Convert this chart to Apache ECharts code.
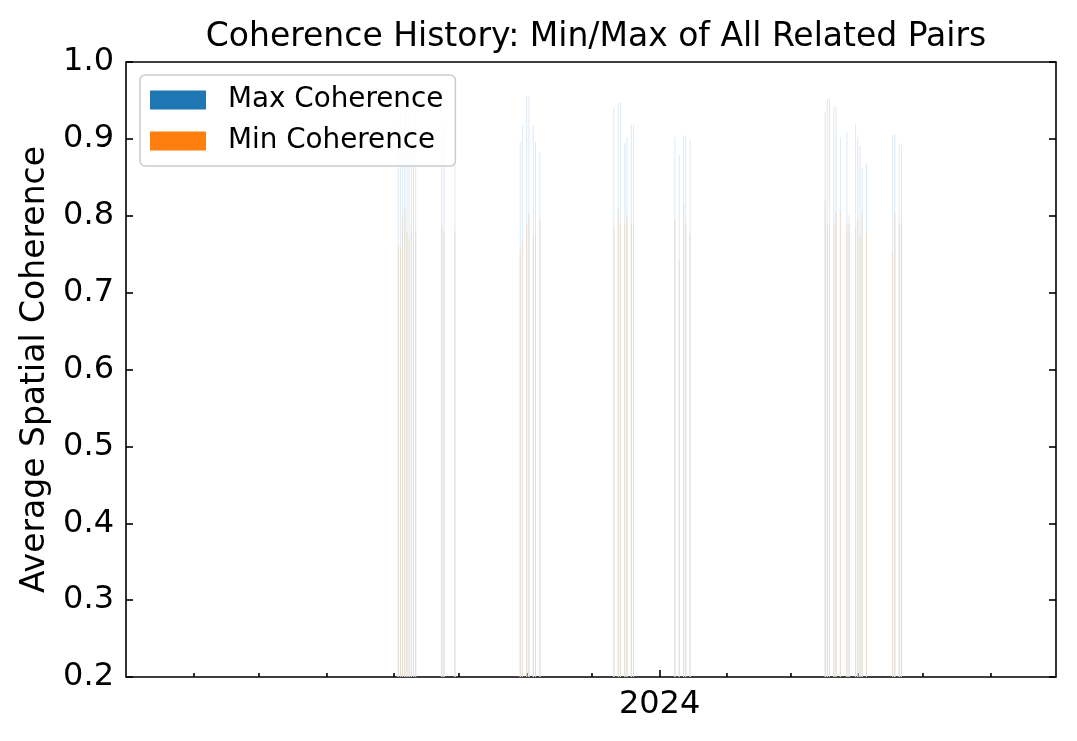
<!DOCTYPE html>
<html><head><meta charset="utf-8">
<script src="https://cdn.jsdelivr.net/npm/echarts@6/dist/echarts.min.js"></script>
<style>html,body{margin:0;padding:0;background:#fff}#c{width:1077px;height:741px}</style>
</head><body><div id="c"></div>
<script>
// ---- data ----
const dates = [
  '2023-09-03','2023-09-04','2023-09-05','2023-09-06','2023-09-07','2023-09-08','2023-09-09','2023-09-10','2023-09-11',
  '2023-09-23','2023-09-24','2023-09-29',
  '2023-10-29','2023-10-30','2023-11-01','2023-11-02','2023-11-04','2023-11-05','2023-11-07',
  '2023-12-11','2023-12-13','2023-12-14','2023-12-16','2023-12-17','2023-12-19','2023-12-20',
  '2024-01-08','2024-01-10','2024-01-12','2024-01-13','2024-01-15',
  '2024-03-17','2024-03-18','2024-03-19','2024-03-21','2024-03-22','2024-03-24','2024-03-27','2024-03-28',
  '2024-03-31','2024-04-01','2024-04-02','2024-04-03','2024-04-05',
  '2024-04-17','2024-04-18','2024-04-20','2024-04-21'
];
const maxCoherence = [
  0.92,0.93,0.91,0.94,0.92,0.93,0.91,0.92,0.93,
  0.91,0.92,0.92,
  0.896,0.917,0.956,0.956,0.917,0.896,0.883,
  0.941,0.947,0.947,0.894,0.902,0.918,0.918,
  0.902,0.879,0.904,0.904,0.899,
  0.935,0.952,0.952,0.942,0.942,0.902,0.909,0.801,
  0.920,0.902,0.890,0.862,0.868,
  0.905,0.905,0.894,0.892
];
const minCoherence = [
  0.76,0.76,0.80,0.81,0.78,0.77,0.78,0.78,0.78,
  0.785,0.78,0.78,
  0.756,0.769,0.789,0.802,0.773,0.775,0.795,
  0.785,0.81,0.79,0.79,0.80,0.79,0.79,
  0.794,0.742,0.816,0.79,0.777,
  0.82,0.788,0.788,0.791,0.805,0.805,0.788,0.790,
  0.784,0.797,0.775,0.803,0.779,
  0.753,0.803,0.788,0.790
];
const xRange = ['2023-05-01','2024-07-01'];
const monthTicks = ['2023-06-01','2023-07-01','2023-08-01','2023-09-01','2023-10-01','2023-11-01','2023-12-01',
  '2024-02-01','2024-03-01','2024-04-01','2024-05-01','2024-06-01'];
const yearTicks = ['2024-01-01'];
const yearLabels = ['2024'];
const yMin = 0.2, yMax = 1.0, yStep = 0.1;

// ---- helpers ----
const ts = s => { const [y,m,d] = s.split('-').map(Number); return Date.UTC(y, m-1, d); };
const font = 'DejaVu Sans';
const yearTs = yearTicks.map(ts);
const monthTs = monthTicks.map(ts);
const maxData = dates.map((d,i) => [ts(d), maxCoherence[i]]);
const minData = dates.map((d,i) => [ts(d), minCoherence[i]]);
const tickLine = {color:'#000', width:1.6};
const xMin = ts(xRange[0]), xMax = ts(xRange[1]);

const chart = echarts.init(document.getElementById('c'), null, {renderer:'canvas'});
chart.setOption({
  animation: false,
  backgroundColor: '#fff',
  title: {
    text: 'Coherence History: Min/Max of All Related Pairs',
    left: 591, top: 16, textAlign: 'center',
    textStyle: {fontFamily: font, fontSize: 33, fontWeight: 'normal', color: '#000'}
  },
  grid: {left:126, right:21, top:62, bottom:64, show:true, borderColor:'#000', borderWidth:1.6, backgroundColor:'transparent'},
  legend: {
    orient:'vertical', left:140, top:75, padding:[11,12,11,10],
    itemWidth:56, itemHeight:19, itemGap:13,
    backgroundColor:'rgba(255,255,255,0.8)', borderColor:'#cccccc', borderWidth:1.5, borderRadius:5,
    textStyle:{fontFamily:font, fontSize:27.8, color:'#000', padding:[0,0,0,17]},
    data:[
      {name:'Max Coherence', icon:'rect', itemStyle:{color:'#1f77b4', opacity:1}},
      {name:'Min Coherence', icon:'rect', itemStyle:{color:'#ff7f0e', opacity:1}}
    ]
  },
  xAxis: [
    {type:'value', min: xMin, max: xMax, position:'bottom', scale:true,
     axisLine:{show:false}, splitLine:{show:false},
     axisTick:{show:true, inside:true, length:7, lineStyle:tickLine, customValues: yearTs},
     axisLabel:{show:true, customValues: yearTs, margin:12, fontFamily:font, fontSize:32, color:'#000',
       formatter: v => { const i = yearTs.indexOf(v); return i >= 0 ? yearLabels[i] : ''; }}},
    {type:'value', min: xMin, max: xMax, position:'bottom', scale:true,
     axisLine:{show:false}, splitLine:{show:false},
     axisTick:{show:true, inside:true, length:4, lineStyle:tickLine, customValues: monthTs},
     axisLabel:{show:false}}
  ],
  yAxis: [
    {type:'value', min:yMin, max:yMax, interval:yStep, position:'left',
     axisLine:{show:false}, splitLine:{show:false},
     axisTick:{show:true, inside:true, length:7, lineStyle:tickLine},
     axisLabel:{margin:12, fontFamily:font, fontSize:32, color:'#000', formatter: v => v.toFixed(1)},
     name:'Average Spatial Coherence', nameLocation:'middle', nameGap:71,
     nameTextStyle:{fontFamily:font, fontSize:33, color:'#000'}},
    {type:'value', min:yMin, max:yMax, interval:yStep, position:'right',
     axisLine:{show:false}, splitLine:{show:false},
     axisTick:{show:true, inside:true, length:7, lineStyle:tickLine},
     axisLabel:{show:false}}
  ],
  series: [
    {name:'Max Coherence', type:'bar', xAxisIndex:0, yAxisIndex:0, data:maxData,
     barWidth:1, barGap:'-100%', itemStyle:{color:'#dce9f4'}},
    {name:'Min Coherence', type:'bar', xAxisIndex:0, yAxisIndex:0, data:minData,
     barWidth:1, barGap:'-100%', itemStyle:{color:'#e8ddd0'}}
  ]
});
</script>
</body></html>
